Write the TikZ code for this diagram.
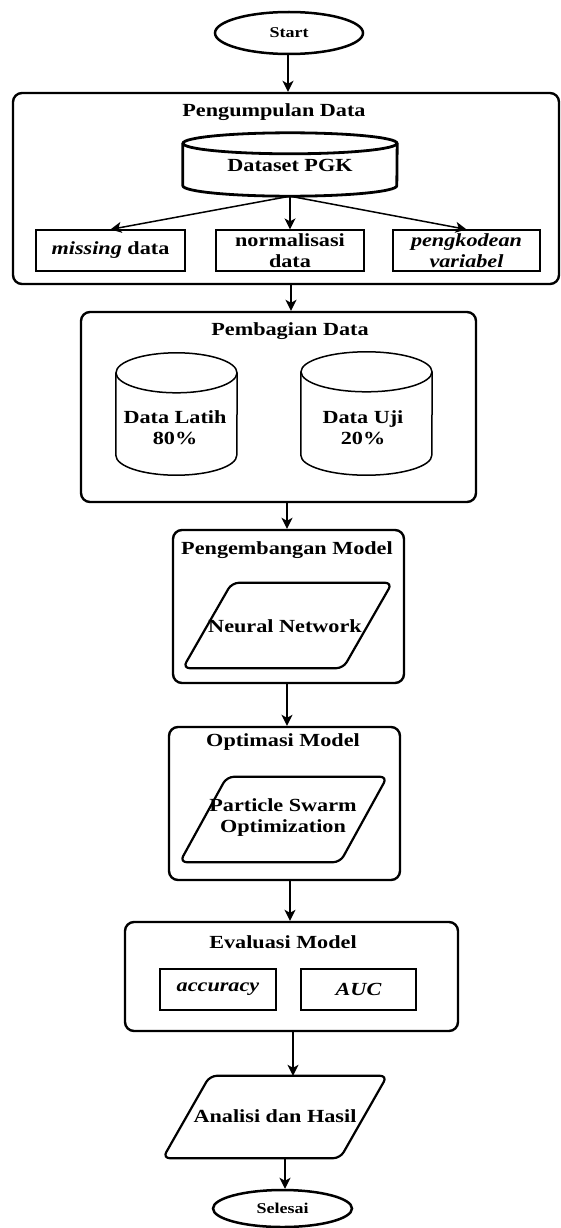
\documentclass[tikz,border=0pt]{standalone}
\usepackage{fontspec}
\setmainfont{Liberation Serif}[FakeStretch=1.2]
\usetikzlibrary{arrows.meta,shapes.geometric,calc}
\newcommand\tfont{\fontsize{18.5}{21}\selectfont\bfseries}
\newcommand\sfontx{\fontsize{15}{17}\selectfont\bfseries}
\newcommand\drawcyl[4]{%
  \draw[line width=#4] ([yshift=-#3]#1.north west) -- ([yshift=#3]#1.south west)
     arc[start angle=180,end angle=360,x radius=#2,y radius=#3] -- ([yshift=-#3]#1.north east);
  \draw[line width=#4] ([yshift=-#3]#1.north) ellipse[x radius=#2, y radius=#3];
}
\newcommand\drawpara[2]{%
  \draw[paraline] (#1.south west) -- ([xshift=#2]#1.north west) -- (#1.north east)
     -- ([xshift=-#2]#1.south east) -- cycle;
}
\tikzset{
  bigbox/.style={draw, line width=2.4pt, rounded corners=9pt, inner sep=0pt},
  sbox/.style={draw, line width=1.2pt, inner sep=0pt, align=center, font=\tfont},
  ttl/.style={font=\tfont, inner sep=0pt, align=center},
  parabox/.style={inner sep=0pt},
  paraline/.style={line width=2.2pt, rounded corners=7pt, line join=round},
  term/.style={draw, ellipse, line width=2.5pt, inner sep=0pt, font=\sfontx},
  cylbox/.style={inner sep=0pt},
  arr/.style={line width=1.5pt, -{Stealth[length=11pt,width=11pt,inset=3pt]}},
}
\begin{document}
\begin{tikzpicture}[x=1pt,y=-1pt]
\fill[white] (0,0) rectangle (561,1228);
\useasboundingbox (0,0) rectangle (561,1228);

% Start
\node[term, minimum width=148pt, minimum height=42pt] (start) at (289,33) {Start};

% Box 1
\node[bigbox, minimum width=546pt, minimum height=191pt] (b1) at (286,188.5) {};
\node[ttl] (t1) at (274,112) {Pengumpulan Data};
\node[cylbox, minimum width=214pt, minimum height=63pt] (ds) at (290,164.5) {};
\drawcyl{ds}{107pt}{10.5pt}{2.8pt}
\node[ttl] (dst) at (290,165) {Dataset PGK};
\node[sbox, minimum width=149pt, minimum height=41pt] (md) at (110.5,250.5) {{\itshape missing} data};
\node[sbox, minimum width=148pt, minimum height=41pt] (nd) at (290,250.5) {normalisasi\\data};
\node[sbox, minimum width=147pt, minimum height=41pt] (pv) at (466.5,250.5) {\itshape pengkodean\\\itshape variabel};
\draw[arr] (ds.south) -- (md.north);
\draw[arr] (ds.south) -- (nd.north);
\draw[arr] (ds.south) -- (pv.north);

% Box 2
\node[bigbox, minimum width=395pt, minimum height=190pt] (b2) at (278.5,407) {};
\node[ttl] (t2) at (290,331) {Pembagian Data};
\node[cylbox, minimum width=121pt, minimum height=122pt] (dl) at (176.5,414) {};
\drawcyl{dl}{60.5pt}{20pt}{1.5pt}
\node[ttl] (dlt) at (175,428) {Data Latih\\80\%};
\node[cylbox, minimum width=131pt, minimum height=123pt] (du) at (366.5,413.5) {};
\drawcyl{du}{65.5pt}{20pt}{1.5pt}
\node[ttl] (dut) at (363,428) {Data Uji\\20\%};

% Box 3
\node[bigbox, minimum width=231pt, minimum height=153pt] (b3) at (288.5,606.5) {};
\node[ttl] (t3) at (287,550) {Pengembangan Model};
\node[parabox, minimum width=209pt, minimum height=85pt] (nn) at (287.5,625.5) {};
\drawpara{nn}{49pt}
\node[ttl] (nnt) at (285,626) {Neural Network};

% Box 4
\node[bigbox, minimum width=231pt, minimum height=153pt] (b4) at (284.5,803.5) {};
\node[ttl] (t4) at (283,742) {Optimasi Model};
\node[parabox, minimum width=207pt, minimum height=85pt] (ps) at (283.5,819.5) {};
\drawpara{ps}{47pt}
\node[ttl] (pst) at (283,818) {Particle Swarm\\Optimization};

% Box 5
\node[bigbox, minimum width=333pt, minimum height=109pt] (b5) at (291.5,976.5) {};
\node[ttl] (t5) at (283,942) {Evaluasi Model};
\node[sbox, minimum width=116pt, minimum height=41pt] (ac) at (218,989.5) {\itshape accuracy};
\node[sbox, minimum width=115pt, minimum height=41pt] (au) at (358.5,989.5) {\itshape AUC};

% Analisi
\node[parabox, minimum width=224pt, minimum height=82pt] (an) at (275,1117) {};
\drawpara{an}{47pt}
\node[ttl] (ant) at (275,1116) {Analisi dan Hasil};

% Selesai
\node[term, minimum width=139pt, minimum height=37pt] (end) at (282.5,1208.5) {Selesai};

% axis coordinates for vertical connectors
\coordinate (x1) at (288,0);
\coordinate (x2) at (291,0);
\coordinate (x3) at (287,0);
\coordinate (x4) at (287,0);
\coordinate (x5) at (290,0);
\coordinate (x6) at (293,0);
\coordinate (x7) at (285,0);
\draw[arr] (start.south -| x1) -- (b1.north -| x1);
\draw[arr] (b1.south -| x2) -- (b2.north -| x2);
\draw[arr] (b2.south -| x3) -- (b3.north -| x3);
\draw[arr] (b3.south -| x4) -- (b4.north -| x4);
\draw[arr] (b4.south -| x5) -- (b5.north -| x5);
\draw[arr] (b5.south -| x6) -- (an.north -| x6);
\draw[arr] (an.south -| x7) -- (end.north -| x7);
\end{tikzpicture}
\end{document}
